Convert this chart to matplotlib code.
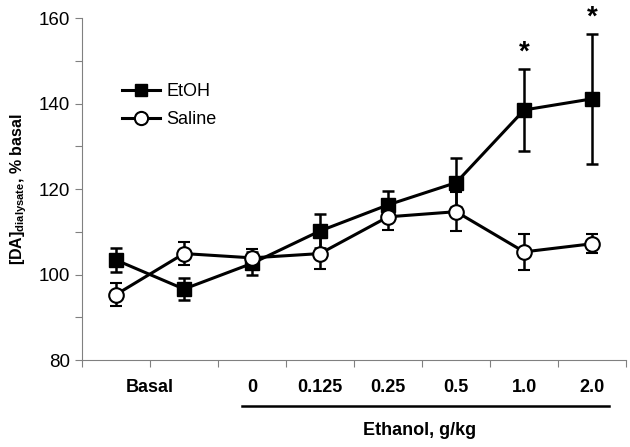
import matplotlib
matplotlib.use("Agg")
import matplotlib.pyplot as plt
import matplotlib.transforms as mtransforms
from matplotlib.lines import Line2D
import numpy as np

plt.rcParams['font.family'] = ['Liberation Sans', 'DejaVu Sans']
plt.rcParams['mathtext.fontset'] = 'custom'
plt.rcParams['mathtext.rm'] = 'Liberation Sans'
plt.rcParams['mathtext.bf'] = 'Liberation Sans:bold'

# veri
kategoriler = ["Basal", "Basal", "0", "0.125", "0.25", "0.5", "1.0", "2.0"]
etoh = [103.4, 96.6, 102.6, 110.2, 116.3, 121.5, 138.5, 141.1]
etoh_sem = [2.7, 2.6, 2.6, 4.0, 3.3, 5.8, 9.6, 15.2]
saline = [95.3, 104.9, 103.9, 104.9, 113.5, 114.7, 105.3, 107.2]
saline_sem = [2.7, 2.6, 2.0, 3.6, 3.1, 4.5, 4.2, 2.2]
doz_etiketleri = ["0", "0.125", "0.25", "0.5", "1.0", "2.0"]
yildizlar = [6, 7]  # anlamli farklar

x = np.arange(len(kategoriler))

fig = plt.figure(figsize=(6.3, 4.47), dpi=100)
ax = fig.add_axes([0.130, 0.1946, 0.864, 0.765])

ax.errorbar(x, etoh, yerr=etoh_sem, color="black", lw=2.2, marker="s", ms=10,
            mfc="black", mec="black", elinewidth=1.8, capsize=4.5, capthick=1.8,
            zorder=3)
ax.errorbar(x, saline, yerr=saline_sem, color="black", lw=2.2, marker="o", ms=10.5,
            mfc="white", mec="black", mew=1.5, elinewidth=1.8, capsize=4.5,
            capthick=1.8, zorder=4)

for i in yildizlar:
    tepe = etoh[i] + etoh_sem[i]
    ax.text(x[i], tepe + 3.8, "*", ha="center", va="center", fontsize=20,
            fontweight="bold")

ax.set_xlim(-0.5, len(kategoriler) - 0.5)
ax.set_ylim(80, 160)
ax.set_yticks(np.arange(80, 161, 20))
ax.set_yticks(np.arange(90, 160, 20), minor=True)
ax.tick_params(axis="y", which="both", direction="out", length=5, width=0.8,
               color="#808080", labelsize=13.5)
ax.set_xticks(np.arange(-0.5, len(kategoriler), 1))
ax.set_xticklabels([])
ax.tick_params(axis="x", direction="out", length=5, width=0.8, color="#808080")

for s in ["top", "right"]:
    ax.spines[s].set_visible(False)
for s in ["left", "bottom"]:
    ax.spines[s].set_color("#808080")
    ax.spines[s].set_linewidth(0.8)

trans = mtransforms.blended_transform_factory(ax.transData, ax.transAxes)
ax.text(0.5, -0.08, "Basal", transform=trans, ha="center", va="center",
        fontsize=13, fontweight="bold")
for i, et in enumerate(doz_etiketleri):
    ax.text(x[i + 2], -0.08, et, transform=trans, ha="center", va="center",
            fontsize=13, fontweight="bold")

ax.plot([1.85, 7.24], [-0.1345, -0.1345], color="black", lw=1.8,
        transform=trans, clip_on=False)
ax.text(4.47, -0.205, "Ethanol, g/kg", transform=trans, ha="center",
        va="center", fontsize=13, fontweight="bold")

ax.set_ylabel(r"[DA]$_{\mathbf{dialysate}}$, % basal", fontsize=11.5,
              fontweight="bold", labelpad=7)

tutamaclar = [
    Line2D([], [], color="black", lw=2.2, marker="s", ms=9, mfc="black"),
    Line2D([], [], color="black", lw=2.2, marker="o", ms=9.5, mfc="white", mew=1.5),
]
ax.legend(tutamaclar, ["EtOH", "Saline"], loc="upper left",
          bbox_to_anchor=(0.0735, 0.81), frameon=False, fontsize=13,
          handlelength=2.1, handletextpad=0.35, labelspacing=0.6,
          borderaxespad=0, borderpad=0)

fig.savefig("out.png", dpi=100)
